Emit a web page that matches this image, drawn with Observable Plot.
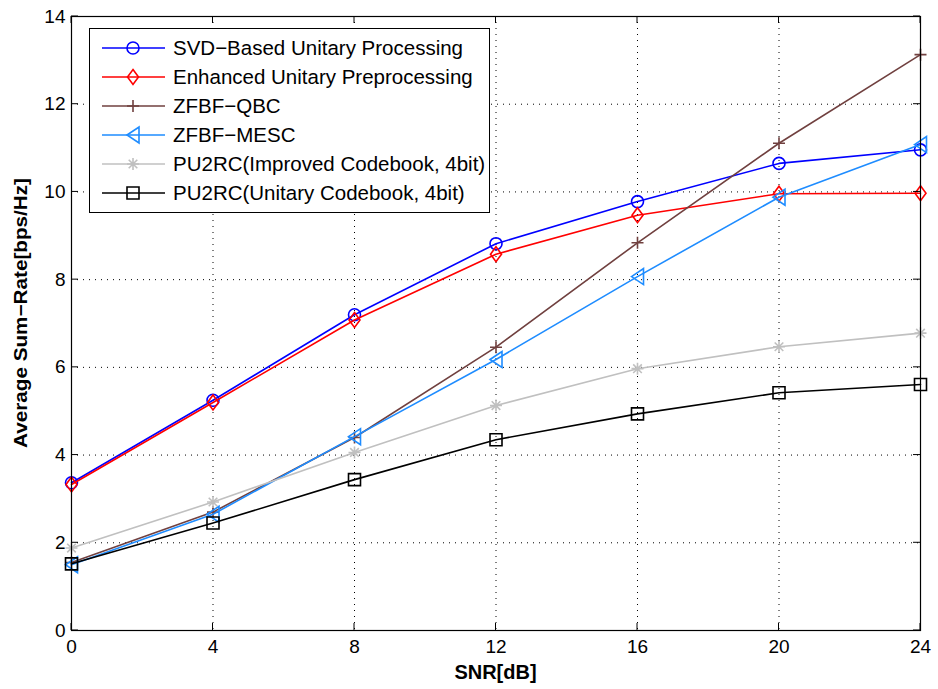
<!DOCTYPE html>
<html>
<head>
<meta charset="utf-8">
<script src="https://cdn.jsdelivr.net/npm/d3@7"></script>
<script src="https://cdn.jsdelivr.net/npm/@observablehq/plot@0.6"></script>
<style>
  html, body { margin: 0; padding: 0; background: #fff; }
  #chart { width: 938px; height: 689px; }
</style>
</head>
<body>
<div id="chart"></div>
<script>
const snr = [0, 4, 8, 12, 16, 20, 24];
const seriesNames = [
  "SVD\u2212Based Unitary Processing",
  "Enhanced Unitary Preprocessing",
  "ZFBF\u2212QBC",
  "ZFBF\u2212MESC",
  "PU2RC(Improved Codebook, 4bit)",
  "PU2RC(Unitary Codebook, 4bit)"
];
const svdBased    = [3.37, 5.25, 7.20, 8.82, 9.78, 10.65, 10.96];
const enhanced    = [3.33, 5.20, 7.08, 8.58, 9.47, 9.96, 9.97];
const zfbfQbc     = [1.55, 2.70, 4.40, 6.46, 8.84, 11.11, 13.13];
const zfbfMesc    = [1.50, 2.65, 4.42, 6.18, 8.07, 9.88, 11.08];
const pu2rcImp    = [1.88, 2.93, 4.06, 5.13, 5.97, 6.47, 6.78];
const pu2rcUni    = [1.52, 2.45, 3.44, 4.35, 4.94, 5.42, 5.61];
const xTicks = [0, 4, 8, 12, 16, 20, 24];
const yTicks = [0, 2, 4, 6, 8, 10, 12, 14];
const xLabel = "SNR[dB]";
const yLabel = "Average Sum\u2212Rate[bps/Hz]";

const colors = ["#0000ff", "#ff0000", "#70403f", "#1e8cff", "#c0c0c0", "#000000"];
const FONT = "'Liberation Sans', Arial, sans-serif";

// custom marker symbols (MATLAB-like)
const symCircle = {draw(c){ c.moveTo(6,0); c.arc(0,0,6,0,2*Math.PI); c.closePath(); }};
const symDiamond = {draw(c){ c.moveTo(0,-7.5); c.lineTo(5.5,0); c.lineTo(0,7.5); c.lineTo(-5.5,0); c.closePath(); }};
const symPlus = {draw(c){ c.moveTo(-6,0); c.lineTo(6,0); c.moveTo(0,-6); c.lineTo(0,6); }};
const symTriLeft = {draw(c){ c.moveTo(-6,0); c.lineTo(6,-8); c.lineTo(6,8); c.closePath(); }};
const symAsterisk = {draw(c){ const a=6, d=4.3; c.moveTo(-a,0); c.lineTo(a,0); c.moveTo(0,-a); c.lineTo(0,a); c.moveTo(-d,-d); c.lineTo(d,d); c.moveTo(-d,d); c.lineTo(d,-d); }};
const symSquare = {draw(c){ c.moveTo(-6,-6); c.lineTo(6,-6); c.lineTo(6,6); c.lineTo(-6,6); c.closePath(); }};
const symbols = [symCircle, symDiamond, symPlus, symTriLeft, symAsterisk, symSquare];

const allSeries = [svdBased, enhanced, zfbfQbc, zfbfMesc, pu2rcImp, pu2rcUni];
const data = [];
allSeries.forEach((vals, i) => vals.forEach((v, j) => data.push({series: i, name: seriesNames[i], x: snr[j], y: v})));

const marks = [
  Plot.gridX(xTicks, {stroke: "#000", strokeOpacity: 1, strokeWidth: 1, strokeDasharray: "1,5"}),
  Plot.gridY(yTicks, {stroke: "#000", strokeOpacity: 1, strokeWidth: 1, strokeDasharray: "1,5"}),
  Plot.axisX({ticks: xTicks, tickSize: 0, tickPadding: 9, fontSize: 19, label: null}),
  Plot.axisY({ticks: yTicks, tickSize: 0, tickPadding: 6, fontSize: 19, label: null}),
];
allSeries.forEach((vals, i) => {
  const d = data.filter(e => e.series === i);
  marks.push(Plot.line(d, {x: "x", y: "y", stroke: colors[i], strokeWidth: 1.6}));
  marks.push(Plot.dot(d, {x: "x", y: "y", stroke: colors[i], strokeWidth: 1.6, fill: "none", symbol: () => symbols[i], r: 6}));
});
marks.push(Plot.frame({stroke: "#000", strokeWidth: 1.2}));

const plot = Plot.plot({
  width: 938,
  height: 689,
  marginLeft: 71,
  marginRight: 18,
  marginTop: 16,
  marginBottom: 59,
  x: {domain: [0, 24]},
  y: {domain: [0, 14]},
  style: {fontFamily: FONT, fontSize: "19px", color: "#000", background: "#fff"},
  marks
});
document.getElementById("chart").appendChild(plot);

// post-render decorations: inward ticks, axis titles, legend
const svg = d3.select(plot);
const sx = plot.scale("x"), sy = plot.scale("y");
const X0 = sx.apply(0), X1 = sx.apply(24), Y0 = sy.apply(0), Y1 = sy.apply(14);
const tg = svg.append("g").attr("stroke", "#000").attr("stroke-width", 1);
xTicks.forEach(t => {
  const x = sx.apply(t);
  tg.append("line").attr("x1", x).attr("x2", x).attr("y1", Y0).attr("y2", Y0 - 7);
  tg.append("line").attr("x1", x).attr("x2", x).attr("y1", Y1).attr("y2", Y1 + 7);
});
yTicks.forEach(t => {
  const y = sy.apply(t);
  tg.append("line").attr("x1", X0).attr("x2", X0 + 7).attr("y1", y).attr("y2", y);
  tg.append("line").attr("x1", X1).attr("x2", X1 - 7).attr("y1", y).attr("y2", y);
});
svg.append("text").attr("x", (X0 + X1) / 2).attr("y", 679).attr("text-anchor", "middle")
  .attr("fill", "#000").attr("font-family", FONT).attr("font-size", 20).attr("font-weight", "bold").text(xLabel);
svg.append("text").attr("transform", `translate(27,313) rotate(-90)`).attr("text-anchor", "middle")
  .attr("fill", "#000").attr("font-family", FONT).attr("font-size", 18).attr("font-weight", "bold")
  .attr("textLength", 270).attr("lengthAdjust", "spacingAndGlyphs").text(yLabel);

// legend
const lg = svg.append("g");
lg.append("rect").attr("x", 89.5).attr("y", 28.5).attr("width", 400).attr("height", 184)
  .attr("fill", "#fff").attr("stroke", "#000").attr("stroke-width", 1);
seriesNames.forEach((name, i) => {
  const y = 48 + i * 29;
  lg.append("line").attr("x1", 102).attr("x2", 165).attr("y1", y).attr("y2", y)
    .attr("stroke", colors[i]).attr("stroke-width", 1.6);
  const p = d3.path(); symbols[i].draw(p);
  lg.append("path").attr("d", p.toString()).attr("transform", `translate(133,${y})`)
    .attr("fill", "none").attr("stroke", colors[i]).attr("stroke-width", 1.6);
  lg.append("text").attr("x", 173).attr("y", y).attr("dy", "0.35em").attr("text-anchor", "start")
    .attr("fill", "#000").attr("font-family", FONT).attr("font-size", 20.5).text(name);
});
</script>
</body>
</html>
